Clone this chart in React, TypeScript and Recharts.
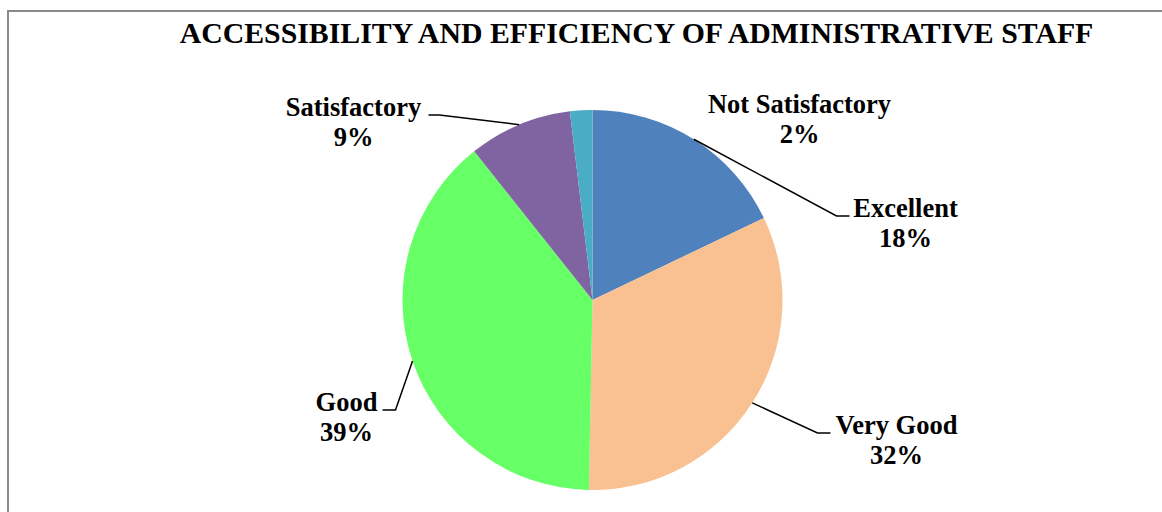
import React from 'react';
import { PieChart, Pie, Cell } from 'recharts';

const categories = ['Excellent', 'Very Good', 'Good', 'Satisfactory', 'Not Satisfactory'];
// shares; labels show them rounded
const shares = [17.9, 32.4, 39.0, 8.8, 1.9];
const sliceColors = ['#4F81BD', '#F9C091', '#66FF66', '#8064A2', '#4BACC6'];

// label placement relative to the pie centre: text centre/baseline and leader elbow points
const labelLayout = [
  { tx: 313, ty: -83, line: [[244, -84], [257, -84]] },
  { tx: 304, ty: 134, line: [[225, 133], [238, 133]] },
  { tx: -246, ty: 111, line: [[-197, 110], [-210, 110]] },
  { tx: -239, ty: -184, line: [[-153, -185], [-164, -185]] },
  { tx: 207, ty: -187, line: [] as number[][] },
];

const data = categories.map((name, i) => ({ name, value: shares[i] }));

const RADIAN = Math.PI / 180;
const FONT = '"Liberation Serif", "Times New Roman", serif';

function renderLabel(props: any) {
  const { cx, cy, midAngle, outerRadius, index, name, percent } = props;
  const layout = labelLayout[index];
  const ax = cx + outerRadius * Math.cos(-midAngle * RADIAN);
  const ay = cy + outerRadius * Math.sin(-midAngle * RADIAN);
  const pts = [[ax, ay], ...layout.line.map(([x, y]) => [cx + x, cy + y])];
  return (
    <g key={`label-${index}`}>
      {layout.line.length > 0 && (
        <polyline
          points={pts.map(p => p.join(',')).join(' ')}
          fill="none"
          stroke="#000"
          strokeWidth={1.5}
        />
      )}
      <text
        x={cx + layout.tx}
        y={cy + layout.ty}
        textAnchor="middle"
        fontFamily={FONT}
        fontWeight="bold"
        fontSize={26.5}
        fill="#000"
      >
        <tspan x={cx + layout.tx}>{name}</tspan>
        <tspan x={cx + layout.tx} dy={30}>{`${Math.round(percent * 100)}%`}</tspan>
      </text>
    </g>
  );
}

export default function App() {
  return (
    <div style={{ position: 'absolute', left: 0, top: 0, width: 1162, height: 512, background: '#fff', overflow: 'hidden' }}>
      <div
        style={{
          position: 'absolute',
          left: 7,
          top: 10,
          width: 1200,
          height: 600,
          borderLeft: '2px solid #8a8a8a',
          borderTop: '2px solid #8a8a8a',
        }}
      />
      <div
        style={{
          position: 'absolute',
          left: 0,
          top: 16,
          width: 1273,
          textAlign: 'center',
          fontFamily: FONT,
          fontWeight: 'bold',
          fontSize: 29.8,
          lineHeight: '33px',
          color: '#000',
          whiteSpace: 'nowrap',
        }}
      >
        ACCESSIBILITY AND EFFICIENCY OF ADMINISTRATIVE STAFF
      </div>
      <div style={{ position: 'absolute', left: 0, top: 0 }}>
        <PieChart width={1162} height={512} margin={{ top: 0, right: 0, bottom: 0, left: 0 }}>
          <Pie
            data={data}
            dataKey="value"
            nameKey="name"
            cx={592.5}
            cy={300}
            outerRadius={190}
            startAngle={90}
            endAngle={-270}
            stroke="none"
            labelLine={false}
            label={renderLabel}
            isAnimationActive={false}
          >
            {data.map((d, i) => (
              <Cell key={d.name} fill={sliceColors[i]} />
            ))}
          </Pie>
        </PieChart>
      </div>
    </div>
  );
}
